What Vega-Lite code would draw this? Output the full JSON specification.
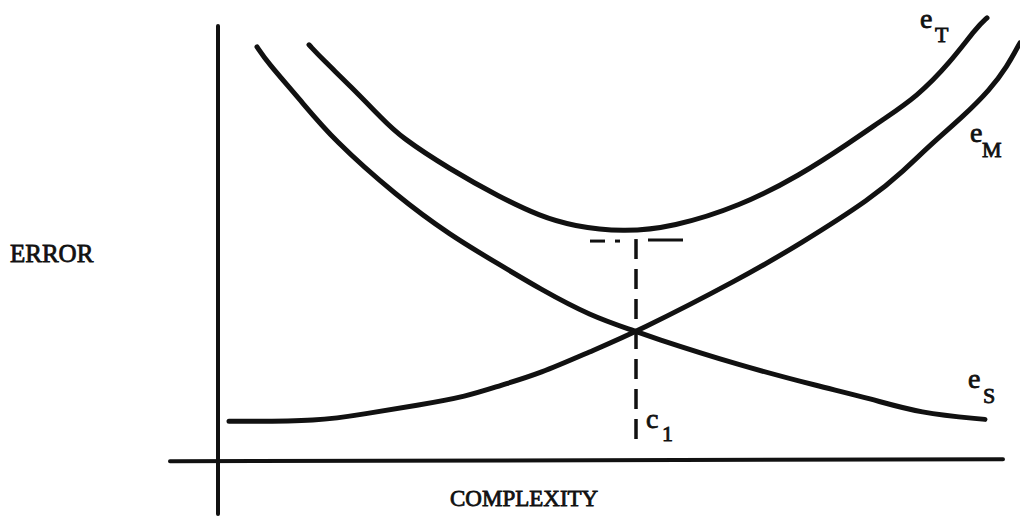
{
  "$schema": "https://vega.github.io/schema/vega-lite/v6.json",
  "width": 1020,
  "height": 516,
  "autosize": {"type": "fit", "contains": "padding"},
  "padding": 0,
  "background": "white",
  "config": {"view": {"stroke": null}},
  "datasets": {
    "curves": [
      {"s": "eS", "x": 4.875, "y": 104},
      {"s": "eS", "x": 6.125, "y": 100.25},
      {"s": "eS", "x": 10.25, "y": 90.75},
      {"s": "eS", "x": 14.375, "y": 80.75},
      {"s": "eS", "x": 22.375, "y": 66.5},
      {"s": "eS", "x": 29, "y": 56.75},
      {"s": "eS", "x": 35.25, "y": 49.25},
      {"s": "eS", "x": 40.25, "y": 43.25},
      {"s": "eS", "x": 46.5, "y": 36.5},
      {"s": "eS", "x": 52.375, "y": 32.5},
      {"s": "eS", "x": 53.625, "y": 31.5},
      {"s": "eS", "x": 65.25, "y": 24},
      {"s": "eS", "x": 75.25, "y": 18.75},
      {"s": "eS", "x": 81.5, "y": 15.75},
      {"s": "eS", "x": 87.75, "y": 12},
      {"s": "eS", "x": 95.875, "y": 10.5},
      {"s": "eM", "x": 1.375, "y": 10},
      {"s": "eM", "x": 12.75, "y": 10},
      {"s": "eM", "x": 18.625, "y": 12},
      {"s": "eM", "x": 24.875, "y": 14},
      {"s": "eM", "x": 31.125, "y": 16.25},
      {"s": "eM", "x": 35.25, "y": 19},
      {"s": "eM", "x": 40.25, "y": 22},
      {"s": "eM", "x": 46.5, "y": 27.5},
      {"s": "eM", "x": 52.375, "y": 32.5},
      {"s": "eM", "x": 65.25, "y": 45.75},
      {"s": "eM", "x": 72.75, "y": 54.5},
      {"s": "eM", "x": 81.875, "y": 66.25},
      {"s": "eM", "x": 85.625, "y": 72.75},
      {"s": "eM", "x": 89.375, "y": 80},
      {"s": "eM", "x": 93.125, "y": 86.5},
      {"s": "eM", "x": 96.5, "y": 93.25},
      {"s": "eM", "x": 98.625, "y": 99},
      {"s": "eM", "x": 100.25, "y": 105},
      {"s": "eT", "x": 11.375, "y": 104.5},
      {"s": "eT", "x": 13.125, "y": 100.75},
      {"s": "eT", "x": 16.5, "y": 94.25},
      {"s": "eT", "x": 20.625, "y": 85.75},
      {"s": "eT", "x": 22.75, "y": 81.5},
      {"s": "eT", "x": 29, "y": 73.25},
      {"s": "eT", "x": 35.25, "y": 66.25},
      {"s": "eT", "x": 40.25, "y": 61.5},
      {"s": "eT", "x": 44.375, "y": 59},
      {"s": "eT", "x": 50.625, "y": 57.5},
      {"s": "eT", "x": 56.875, "y": 58.75},
      {"s": "eT", "x": 65.25, "y": 64},
      {"s": "eT", "x": 72.75, "y": 71.75},
      {"s": "eT", "x": 79, "y": 80},
      {"s": "eT", "x": 83.125, "y": 85.75},
      {"s": "eT", "x": 87.375, "y": 91.5},
      {"s": "eT", "x": 91.5, "y": 100},
      {"s": "eT", "x": 94.875, "y": 109},
      {"s": "eT", "x": 96.125, "y": 111.25}
    ],
    "axes": [
      {"x": 0, "y": 109.25, "x2": 0, "y2": -13.25},
      {"x": -6, "y": 0, "x2": 98.125, "y2": 0.5}
    ],
    "dashV": [
      {"x": 52.25, "y": 55.75, "x2": 52.25, "y2": 3.25}
    ],
    "dashH": [
      {"x": 46.5, "y": 55.25, "x2": 48.375, "y2": 55.25},
      {"x": 49.625, "y": 55.25, "x2": 50.25, "y2": 55.25},
      {"x": 53.75, "y": 55.5, "x2": 58.125, "y2": 55.5}
    ],
    "labels": [
      {"role": "title", "t": "ERROR", "x": -26, "y": 50},
      {"role": "title2", "t": "COMPLEXITY", "x": 29, "y": -11.25},
      {"role": "main", "t": "e", "x": 87.75, "y": 108.75},
      {"role": "sub", "t": "T", "x": 89.625, "y": 105.25},
      {"role": "main", "t": "e", "x": 94, "y": 80},
      {"role": "sub", "t": "M", "x": 95.5, "y": 76.25},
      {"role": "main", "t": "e", "x": 93.75, "y": 18.25},
      {"role": "sub", "t": "S", "x": 95.625, "y": 14.5},
      {"role": "main", "t": "c", "x": 53.5, "y": 8.25},
      {"role": "sub", "t": "1", "x": 55.5, "y": 5}
    ]
  },
  "encoding": {
    "x": {"field": "x", "type": "quantitative", "scale": {"domain": [-27.25, 100.25], "nice": false, "zero": false}, "axis": null},
    "y": {"field": "y", "type": "quantitative", "scale": {"domain": [-13.25, 115.75], "nice": false, "zero": false}, "axis": null}
  },
  "layer": [
    {
      "data": {"name": "axes"},
      "mark": {"type": "rule", "color": "#111", "strokeWidth": 4, "strokeCap": "round"},
      "encoding": {"x2": {"field": "x2"}, "y2": {"field": "y2"}}
    },
    {
      "data": {"name": "dashV"},
      "mark": {"type": "rule", "color": "#111", "strokeWidth": 3.5, "strokeDash": [20, 10]},
      "encoding": {"x2": {"field": "x2"}, "y2": {"field": "y2"}}
    },
    {
      "data": {"name": "dashH"},
      "mark": {"type": "rule", "color": "#111", "strokeWidth": 3},
      "encoding": {"x2": {"field": "x2"}, "y2": {"field": "y2"}}
    },
    {
      "data": {"name": "curves"},
      "mark": {"type": "line", "color": "#111", "strokeWidth": 5, "interpolate": "basis", "strokeCap": "round", "clip": true},
      "encoding": {"detail": {"field": "s", "type": "nominal"}}
    },
    {
      "data": {"name": "labels"},
      "transform": [{"filter": "datum.role === 'title'"}],
      "mark": {"type": "text", "font": "Liberation Serif", "fontSize": 25, "align": "left", "baseline": "alphabetic", "color": "#111", "stroke": "#111", "strokeWidth": 0.8},
      "encoding": {"text": {"field": "t"}}
    },
    {
      "data": {"name": "labels"},
      "transform": [{"filter": "datum.role === 'title2'"}],
      "mark": {"type": "text", "font": "Liberation Serif", "fontSize": 23, "align": "left", "baseline": "alphabetic", "color": "#111", "stroke": "#111", "strokeWidth": 0.8},
      "encoding": {"text": {"field": "t"}}
    },
    {
      "data": {"name": "labels"},
      "transform": [{"filter": "datum.role === 'main'"}],
      "mark": {"type": "text", "font": "Liberation Serif", "fontSize": 28, "align": "left", "baseline": "alphabetic", "color": "#111", "stroke": "#111", "strokeWidth": 0.8},
      "encoding": {"text": {"field": "t"}}
    },
    {
      "data": {"name": "labels"},
      "transform": [{"filter": "datum.role === 'sub'"}],
      "mark": {"type": "text", "font": "Liberation Serif", "fontSize": 22, "align": "left", "baseline": "alphabetic", "color": "#111", "stroke": "#111", "strokeWidth": 0.8},
      "encoding": {"text": {"field": "t"}}
    }
  ]
}
